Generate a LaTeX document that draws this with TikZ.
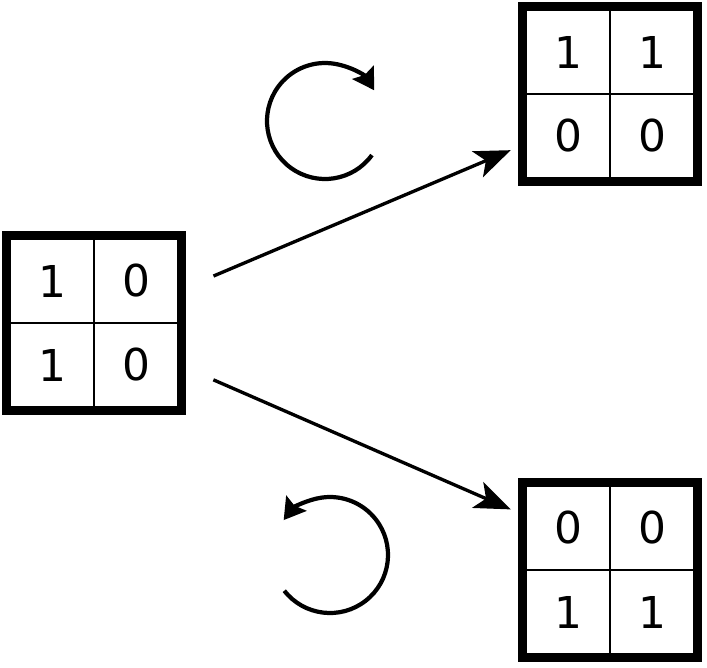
\documentclass[tikz,border=0pt]{standalone}
\usepackage{fontspec}
\setmainfont{DejaVu Sans}
\usetikzlibrary{arrows.meta, positioning}

% thin cross and four digits inside a board
\newcommand{\fillboard}[5]{%
    \draw[divider] (#1.north) -- (#1.south);
    \draw[divider] (#1.west) -- (#1.east);
    \node[cell] (#1-tl) at ([shift={(-42,-42)}]#1.center) {#2};
    \node[cell] (#1-tr) at ([shift={(42,-42)}]#1.center) {#3};
    \node[cell] (#1-bl) at ([shift={(-42,42)}]#1.center) {#4};
    \node[cell] (#1-br) at ([shift={(42,42)}]#1.center) {#5};
}

\begin{document}
\begin{tikzpicture}[x=0.02cm, y=-0.02cm,
    board/.style={rectangle, draw, line width=5pt, minimum size=3.5cm, inner sep=0pt},
    cell/.style={font=\fontsize{25}{30}\selectfont, inner sep=0pt},
    divider/.style={line width=0.8pt},
    arrow/.style={-{Stealth[length=0.72cm, width=0.56cm, inset=0.18cm]}, line width=1.9pt},
    turn/.style={-{Stealth[length=0.42cm, width=0.5cm, inset=0.06cm]}, line width=2.4pt}
]
\useasboundingbox (0,0) rectangle (707,667);

\node[board] (start) at (94,323) {};
\node[board] (top) at (610,94) {};
\node[board] (bottom) at (610,570) {};

\fillboard{start}{1}{0}{1}{0}
\fillboard{top}{1}{1}{0}{0}
\fillboard{bottom}{0}{0}{1}{1}

\draw[arrow, shorten <=0.6cm, shorten >=0.16cm] (start.21) -- (top.210);
\draw[arrow, shorten <=0.6cm, shorten >=0.16cm] (start.-26) -- (bottom.148);

% rotation marks
\coordinate (cw) at (325,121);
\coordinate (ccw) at (330,555);
\draw[turn] (cw) ++(36:58) arc[start angle=36, end angle=328, radius=58];
\draw[turn] (ccw) ++(142:58) arc[start angle=142, end angle=-143, radius=58];

\end{tikzpicture}
\end{document}
